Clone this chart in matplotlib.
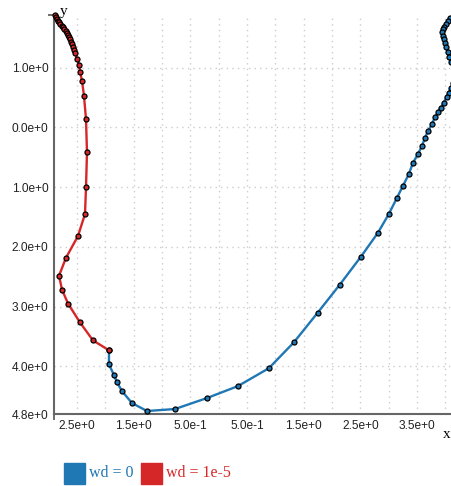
import matplotlib.pyplot as plt
from matplotlib.patches import Rectangle
from matplotlib.ticker import FixedLocator, FuncFormatter
import numpy as np

# trajectory for wd = 1e-5 (red)
red_x = [-2.888, -2.870, -2.853, -2.835, -2.817, -2.800, -2.765, -2.747, -2.729, -2.694,
         -2.676, -2.659, -2.641, -2.623, -2.606, -2.588, -2.571, -2.553, -2.535, -2.500,
         -2.465, -2.447, -2.412, -2.377, -2.341, -2.324, -2.341, -2.359, -2.482, -2.694,
         -2.817, -2.765, -2.659, -2.447, -2.218, -1.936]
red_y = [1.883, 1.850, 1.817, 1.783, 1.767, 1.733, 1.700, 1.683, 1.650, 1.617,
         1.583, 1.550, 1.517, 1.483, 1.433, 1.400, 1.350, 1.300, 1.250, 1.150,
         1.050, 0.933, 0.783, 0.533, 0.133, -0.417, -1.000, -1.450, -1.817, -2.183,
         -2.483, -2.717, -2.950, -3.267, -3.567, -3.733]

# trajectory for wd = 0 (blue)
blue_x = [4.185, 4.079, 4.044, 4.008, 3.973, 3.955, 3.937, 3.955, 3.973, 3.990,
          4.008, 4.044, 4.061, 4.097, 4.220, 4.132, 4.097, 4.061, 4.026, 3.973,
          3.920, 3.867, 3.814, 3.761, 3.690, 3.638, 3.585, 3.514, 3.426, 3.355,
          3.250, 3.144, 3.003, 2.809, 2.509, 2.138, 1.750, 1.327, 0.886, 0.340,
          -0.207, -0.772, -1.265, -1.530, -1.706, -1.795, -1.847, -1.936, -1.936]
blue_y = [1.900, 1.833, 1.783, 1.733, 1.683, 1.650, 1.600, 1.533, 1.483, 1.417,
          1.350, 1.267, 1.183, 1.100, 0.933, 0.750, 0.667, 0.583, 0.517, 0.417,
          0.333, 0.250, 0.167, 0.050, -0.067, -0.183, -0.317, -0.450, -0.600, -0.783,
          -0.983, -1.183, -1.450, -1.767, -2.167, -2.633, -3.100, -3.600, -4.033, -4.333,
          -4.533, -4.717, -4.750, -4.617, -4.417, -4.267, -4.150, -3.967, -3.733]

x_ticks = [-2.5, -1.5, -0.5, 0.5, 1.5, 2.5, 3.5]
y_ticks = [1.0, 0.0, -1.0, -2.0, -3.0, -4.0, -4.8]
x_lim = (-2.906, 4.1)
y_lim = (-4.8, 1.883)

series = [("wd = 0", "#1f77b4", blue_x, blue_y), ("wd = 1e-5", "#d62728", red_x, red_y)]


def sci(v, pos=None):
    m, e = f"{abs(v):.1e}".split("e")
    e = int(e)
    return f"{m}e{'+' if e >= 0 else '-'}{abs(e)}"


W, H = 451, 486
fig = plt.figure(figsize=(W / 100, H / 100), dpi=100)
ax = fig.add_axes([54 / W, (H - 414) / H, (W - 54) / W, (414 - 15) / H])
ax.set_xlim(*x_lim)
ax.set_ylim(*y_lim)

# dotted grid
for gx in np.arange(-2.5, 4.01, 0.5):
    ax.axvline(gx, color="#cccccc", lw=1, ls=(0, (1, 3)), zorder=0)
for gy in y_ticks[:-1]:
    ax.axhline(gy, color="#cccccc", lw=1, ls=(0, (1, 3)), zorder=0)

for name, col, xs, ys in series:
    ax.plot(xs, ys, color=col, lw=1.7, zorder=2, clip_on=False)
    ax.plot(xs, ys, ls="none", marker="o", ms=3.6, mfc=col, mec="black", mew=0.9,
            zorder=3, clip_on=False)

ax.xaxis.set_major_locator(FixedLocator(x_ticks))
ax.yaxis.set_major_locator(FixedLocator(y_ticks))
ax.xaxis.set_major_formatter(FuncFormatter(sci))
ax.yaxis.set_major_formatter(FuncFormatter(sci))
ax.xaxis.set_minor_locator(FixedLocator([x_lim[0]]))
ax.yaxis.set_minor_locator(FixedLocator(list(y_lim)))
ax.tick_params(which="major", length=0, pad=4, labelsize=8.6, labelcolor="#222222")
ax.tick_params(which="minor", length=4, width=1.2, color="#555555")
for lab in ax.get_xticklabels() + ax.get_yticklabels():
    lab.set_fontfamily("Liberation Sans")

for s in ["top", "right"]:
    ax.spines[s].set_visible(False)
for s in ["left", "bottom"]:
    ax.spines[s].set_color("#666666")
    ax.spines[s].set_linewidth(1.5)

# axis names
fig.text(60 / W, 1 - 11 / H, "y", family="Liberation Serif", fontsize=11, va="center", ha="left")
fig.text(443 / W, 1 - 434 / H, "x", family="Liberation Serif", fontsize=11, va="center", ha="left")

# legend
lx = [64, 141]
for (name, col, _, _), x0 in zip(series, lx):
    fig.patches.append(Rectangle((x0 / W, 1 - 484 / H), 21 / W, 21 / H,
                                 transform=fig.transFigure, color=col))
    fig.text((x0 + 25) / W, 1 - 473 / H, name, color=col, family="Liberation Serif",
             fontsize=11.5, va="center", ha="left")

fig.savefig("out.png", dpi=100)
